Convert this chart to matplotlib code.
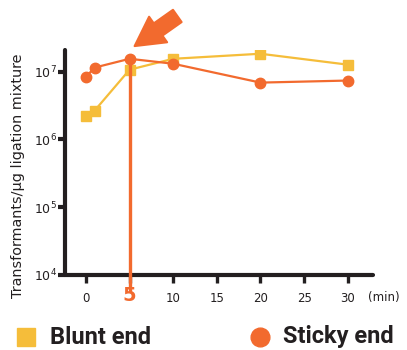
import matplotlib
matplotlib.use('Agg')
import matplotlib.pyplot as plt
from matplotlib.lines import Line2D
from matplotlib.transforms import offset_copy

# ligation time (min)
blunt_t = [0, 1, 5, 10, 20, 30]
blunt_val = [2.25e6, 2.67e6, 1.07e7, 1.55e7, 1.84e7, 1.27e7]
sticky_t = [0, 1, 5, 10, 20, 30]
sticky_val = [8.4e6, 1.15e7, 1.55e7, 1.31e7, 6.9e6, 7.4e6]

x_ticks = [0, 5, 10, 15, 20, 25, 30]
y_ticks = [1e4, 1e5, 1e6, 1e7]
y_tick_labels = ['$10^4$', '$10^5$', '$10^6$', '$10^7$']
highlight_t = 5

yellow = '#F5BD3A'
orange = '#F26A2E'
dark = '#231F20'

plt.rcParams['font.family'] = ['DejaVu Sans']
plt.rcParams['mathtext.fontset'] = 'dejavusans'

fig = plt.figure(figsize=(4.07, 3.5), dpi=100)
ax = fig.add_axes([65 / 407, 1 - 275 / 350, (373 - 65) / 407, (275 - 50) / 350])

ax.plot(blunt_t, blunt_val, color=yellow, lw=1.6, marker='s', ms=7.5,
        mec=yellow, mfc=yellow, zorder=3)
ax.plot(sticky_t, sticky_val, color=orange, lw=1.6, marker='o', ms=7.5,
        mec=orange, mfc=orange, zorder=4)

# vertical marker at 5 min
i5 = sticky_t.index(highlight_t)
ax.plot([highlight_t, highlight_t], [sticky_val[i5], 10 ** 3.75], color=orange,
        lw=2.4, clip_on=False, zorder=5, solid_capstyle='butt')

ax.set_yscale('log')
ax.set_ylim(1e4, 10 ** 7.32)
ax.set_xlim(-2.4, 32.9)
ax.minorticks_off()
ax.set_yticks(y_ticks)
ax.set_yticklabels(y_tick_labels)
ax.set_xticks(x_ticks)
ax.set_xticklabels([str(t) for t in x_ticks])

for s in ['top', 'right']:
    ax.spines[s].set_visible(False)
for s in ['left', 'bottom']:
    ax.spines[s].set_linewidth(3)
    ax.spines[s].set_color(dark)
    ax.spines[s].set_capstyle('round')

ax.tick_params(axis='y', length=5, width=3, color=dark, labelsize=9, pad=1, labelcolor=dark)
ax.tick_params(axis='x', length=5.5, width=2.4, color=dark, labelsize=8.5, pad=7, labelcolor=dark)
for lab in ax.get_xticklabels():
    if lab.get_text() == str(highlight_t):
        lab.set_color(orange)
        lab.set_fontweight('bold')
        lab.set_fontsize(14)
        lab.set_y(0.03)

fig.text(18 / 407, 1 - 176 / 350, 'Transformants/\u03bcg ligation mixture',
         rotation=90, ha='center', va='center', fontsize=10.4, color=dark)
fig.text(368 / 407, 1 - 297 / 350, '(min)', ha='left', va='center',
         fontsize=8.5, color=dark)

# big arrow pointing at the 5 min point
tip = offset_copy(ax.transData, fig=fig, x=2, y=8, units='points')
ax.annotate('', xy=(highlight_t, sticky_val[i5]), xycoords=tip,
            xytext=(34, 24), textcoords='offset points',
            arrowprops=dict(arrowstyle='simple,head_length=1.15,head_width=1.25,tail_width=0.6',
                            mutation_scale=18, color=orange, lw=1.5,
                            joinstyle='round', capstyle='round'),
            annotation_clip=False)

# legend row under the chart
legend_items = [('Blunt end', 's', yellow, 26, 50), ('Sticky end', 'o', orange, 260, 283)]
for label, mk, col, mx, tx in legend_items:
    fig.add_artist(Line2D([mx / 407], [1 - 337 / 350], transform=fig.transFigure,
                          ls='none', marker=mk, ms=12.5 if mk == 's' else 13.5,
                          color=col))
    fig.text(tx / 407, 1 - 337 / 350, label, ha='left', va='center',
             family='Roboto', fontweight='bold', fontsize=17, color=dark)

fig.savefig('out.png', dpi=100)
